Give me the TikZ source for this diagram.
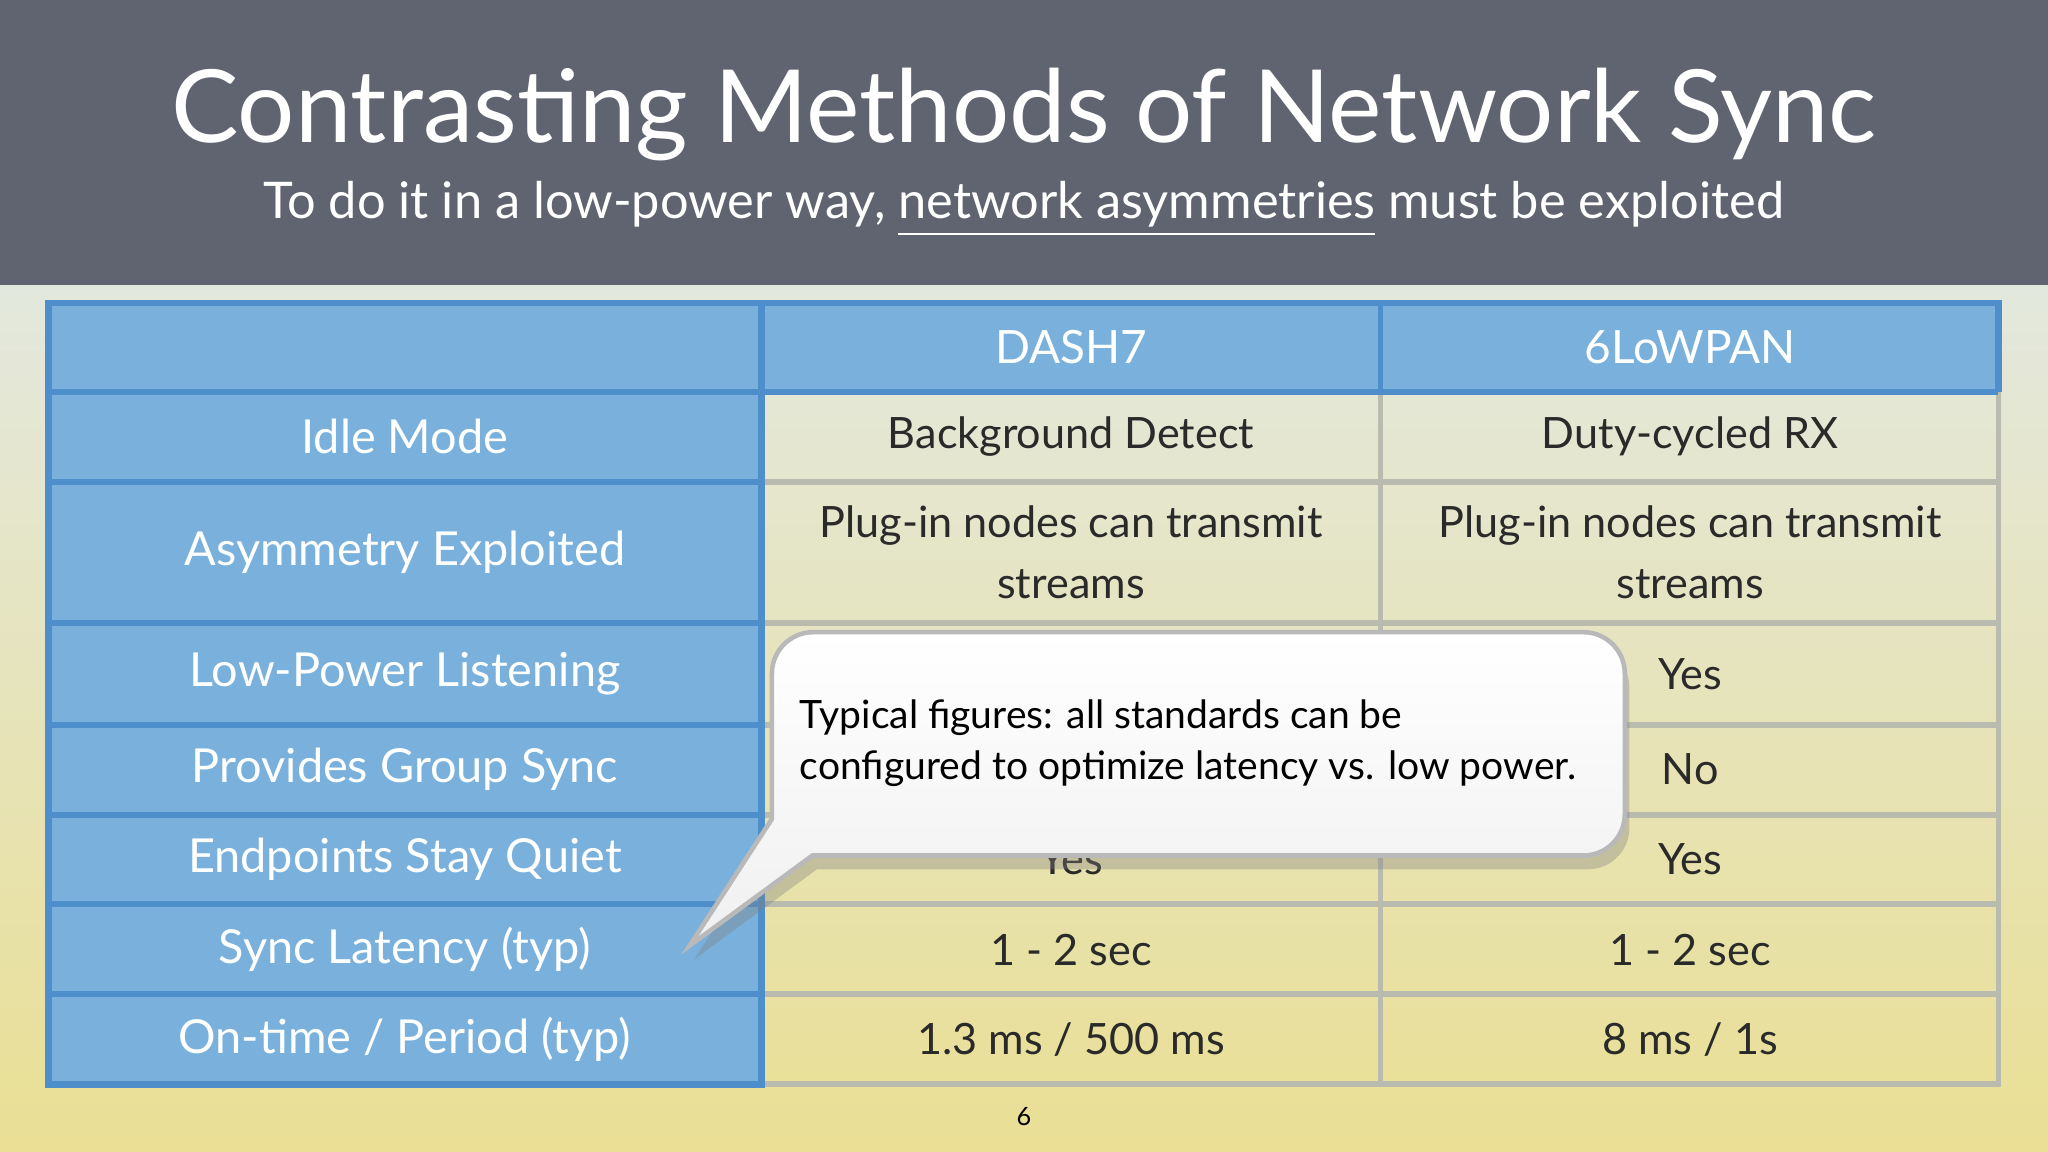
\documentclass[tikz,border=0pt]{standalone}
\usepackage{fontspec}
\setmainfont{Lato}
\usetikzlibrary{shadows}
\definecolor{hdr}{HTML}{5F6470}
\definecolor{bgtop}{HTML}{E3E8DE}
\definecolor{bgbot}{HTML}{EADF94}
\definecolor{blu}{HTML}{79B1DC}
\definecolor{bluline}{HTML}{4E8FCB}
\definecolor{grid}{HTML}{B9BBAE}
\definecolor{txt}{HTML}{2A2A2A}
\tikzset{
  lab/.style={text=white,font=\fontsize{10.2}{12}\selectfont,align=center},
  cell/.style={text=txt,font=\fontsize{9.4}{13.3}\selectfont,align=center},
  hd/.style={text=white,font=\fontsize{10}{12}\selectfont},
}
\begin{document}
\begin{tikzpicture}[x=0.01cm,y=-0.01cm]
\useasboundingbox (0,0) rectangle (1568,882);
\shade[top color=bgtop,bottom color=bgbot] (0,218) rectangle (1568,882);
\fill[hdr] (0,0) rectangle (1568,218);
\node[text=white,font=\fontsize{22}{26}\selectfont] (title) at (784,88) {Contrasting Methods of Network Sync};
\node[text=white,font=\fontsize{11}{13}\selectfont] (sub) at (784,160) {To do it in a low-power way, \underline{network asymmetries} must be exploited};
% blue areas
\fill[blu] (37,232) rectangle (583,830);
\fill[blu] (583,232) rectangle (1530,300);
% grid
\foreach \y in {369,477,555,624,692,761} \draw[grid,line width=1.2pt] (583,\y) -- (1530,\y);
\draw[grid,line width=1.2pt] (1057,300) -- (1057,830);
\draw[grid,line width=1.2pt] (583,830) -- (1530,830) -- (1530,300);
\foreach \y in {300,369,477,555,624,692,761} \draw[bluline,line width=1.2pt] (37,\y) -- (583,\y);
\draw[bluline,line width=1.2pt] (1057,232) -- (1057,300) (583,300) -- (1530,300);
\draw[bluline,line width=1.5pt] (37,232) rectangle (583,830);
\draw[bluline,line width=1.5pt] (583,232) -- (1530,232) -- (1530,300);
\draw[bluline,line width=1.5pt] (583,232) -- (583,830);
% header
\node[hd] (h1) at (820,266) {DASH7};
\node[hd] (h2) at (1294,266) {6LoWPAN};
% labels
\node[lab] (l1) at (310,334) {Idle Mode};
\node[lab] (l2) at (310,423) {Asymmetry Exploited};
\node[lab] (l3) at (310,516) {Low-Power Listening};
\node[lab] (l4) at (310,589) {Provides Group Sync};
\node[lab] (l5) at (310,658) {Endpoints Stay Quiet};
\node[lab] (l6) at (310,727) {Sync Latency (typ)};
\node[lab] (l7) at (310,796) {On-time / Period (typ)};
% cells
\node[cell] (a1) at (820,334) {Background Detect};
\node[cell] (b1) at (1294,334) {Duty-cycled RX};
\node[cell] (a2) at (820,423) {Plug-in nodes can transmit\\streams};
\node[cell] (b2) at (1294,423) {Plug-in nodes can transmit\\streams};
\node[cell] (a3) at (820,516) {Yes};
\node[cell] (b3) at (1294,516) {Yes};
\node[cell] (a4) at (820,589) {Yes};
\node[cell] (b4) at (1294,589) {No};
\node[cell] (a5) at (820,658) {Yes};
\node[cell] (b5) at (1294,658) {Yes};
\node[cell] (a6) at (820,727) {1 - 2 sec};
\node[cell] (b6) at (1294,727) {1 - 2 sec};
\node[cell] (a7) at (820,796) {1.3 ms / 500 ms};
\node[cell] (b7) at (1294,796) {8 ms / 1s};
% callout
\path[top color=white,bottom color=gray!12,draw=gray!55,line width=1pt,
  drop shadow={shadow xshift=1pt,shadow yshift=-3pt,opacity=0.35}]
  (591,627) [rounded corners=9pt]-- (591,484) -- (1244,484) -- (1244,655) [sharp corners]-- (622,655) -- (528,724) -- cycle;
\node[anchor=west,align=left,text=black,font=\fontsize{8.5}{11.3}\selectfont] (call) at (600,569)
  {Typical figures: all standards can be\\configured to optimize latency vs. low power.};
\node[text=black,font=\fontsize{5.5}{7}\selectfont] (pg) at (784,855) {6};
\end{tikzpicture}
\end{document}
